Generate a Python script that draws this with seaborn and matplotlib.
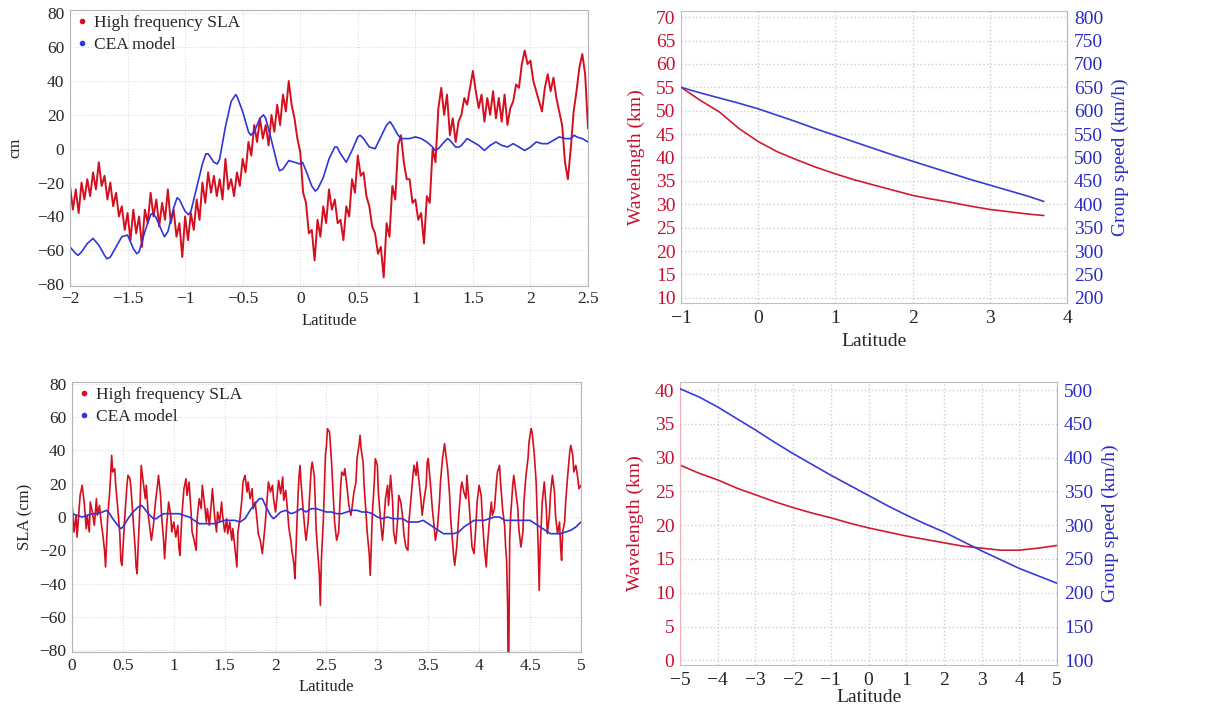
import numpy as np
import pandas as pd
import matplotlib
matplotlib.use("Agg")
import matplotlib.pyplot as plt
import seaborn as sns
from matplotlib.lines import Line2D

# ---- top-left: high frequency SLA vs CEA model (latitude -2 .. 2.5, step 0.025)
sla_top = [
    -22, -36, -24, -38, -20, -30, -18, -28, -14, -24,
    -8, -22, -16, -30, -20, -34, -26, -40, -34, -48,
    -38, -54, -36, -50, -40, -58, -36, -44, -26, -40,
    -30, -46, -32, -42, -24, -44, -36, -52, -44, -64,
    -40, -54, -38, -48, -30, -42, -20, -32, -14, -26,
    -16, -28, -18, -30, -6, -24, -18, -28, -14, -22,
    -6, -14, 4, -4, 14, 4, 18, 6, 14, 2,
    20, 10, 26, 14, 32, 22, 40, 26, 18, 6,
    -2, -26, -32, -50, -48, -66, -42, -52, -34, -44,
    -24, -36, -30, -44, -42, -54, -34, -40, -18, -26,
    -4, -16, -14, -28, -34, -46, -50, -62, -58, -76,
    -44, -52, -22, -30, 2, 8, -8, -18, -18, -32,
    -30, -42, -38, -56, -28, -32, 0, -8, 24, 36,
    20, 32, 8, 18, 4, 16, 20, 30, 26, 36,
    46, 34, 24, 32, 16, 30, 20, 34, 18, 30,
    16, 32, 14, 24, 28, 38, 36, 50, 58, 50,
    52, 40, 34, 28, 22, 36, 44, 34, 42, 30,
    22, 14, -8, -18, 0, 22, 34, 48, 56, 44,
    12,
]
lat_top = np.linspace(-2.0, 2.5, len(sla_top))

cea_top_lat = [-2.0, -1.95, -1.93, -1.9, -1.85, -1.8, -1.75, -1.7, -1.68, -1.65, -1.6,
               -1.55, -1.5, -1.45, -1.42, -1.4, -1.35, -1.3, -1.28, -1.25, -1.2, -1.18,
               -1.15, -1.1, -1.07, -1.05, -1.0, -0.97, -0.95, -0.9, -0.85, -0.82, -0.8,
               -0.75, -0.72, -0.7, -0.65, -0.6, -0.56, -0.55, -0.5, -0.45, -0.43, -0.4,
               -0.35, -0.32, -0.3, -0.25, -0.2, -0.18, -0.15, -0.1, -0.05, 0.0, 0.02,
               0.05, 0.1, 0.13, 0.15, 0.2, 0.25, 0.3, 0.32, 0.35, 0.4, 0.45, 0.5, 0.52,
               0.55, 0.6, 0.65, 0.7, 0.75, 0.78, 0.8, 0.85, 0.88, 0.9, 0.95, 1.0, 1.05,
               1.1, 1.15, 1.17, 1.2, 1.25, 1.28, 1.3, 1.35, 1.38, 1.4, 1.45, 1.5, 1.55,
               1.6, 1.65, 1.7, 1.75, 1.8, 1.85, 1.9, 1.95, 2.0, 2.05, 2.1, 2.15, 2.2,
               2.25, 2.3, 2.35, 2.38, 2.4, 2.45, 2.5]
cea_top = [-58, -62, -63, -61, -56, -53, -57, -63, -65, -64, -58,
           -52, -51, -59, -62, -61, -49, -39, -38, -41, -49, -52,
           -49, -35, -29, -30, -37, -39, -37, -23, -9, -3, -3,
           -8, -9, -6, 13, 28, 32, 31, 22, 10, 8, 10,
           18, 20, 18, 5, -9, -13, -12, -7, -8, -9, -8,
           -13, -22, -25, -24, -17, -6, 1, 1, -3, -8, -1, 7, 8,
           6, 1, 0, 7, 14, 16, 14, 8, 6, 6, 6, 7, 6,
           4, 1, -1, 0, 4, 6, 5, 1, 1, 2, 6, 4, 2,
           -1, 2, 4, 2, 1, 3, 1, -1, 1, 4, 3, 3, 5,
           7, 6, 6, 8, 7, 6, 4]

# ---- bottom-left: high frequency SLA vs CEA model (latitude 0 .. 5)
sla_bot_lat = [
    0.00, 0.02, 0.04, 0.05, 0.07, 0.08, 0.10, 0.12, 0.14, 0.15, 0.17, 0.18, 0.20, 0.22,
    0.24, 0.25, 0.27, 0.29, 0.30, 0.32, 0.33, 0.35, 0.37, 0.38, 0.39, 0.40, 0.42, 0.43,
    0.45, 0.47, 0.48, 0.49, 0.50, 0.52, 0.54, 0.55, 0.57, 0.58, 0.60, 0.62, 0.63, 0.64,
    0.65, 0.67, 0.68, 0.70, 0.72, 0.73, 0.75, 0.77, 0.78, 0.80, 0.82, 0.84, 0.85, 0.87,
    0.88, 0.90, 0.91, 0.93, 0.95, 0.97, 0.98, 1.00, 1.02, 1.04, 1.05, 1.06, 1.08, 1.10,
    1.12, 1.13, 1.15, 1.17, 1.18, 1.20, 1.22, 1.23, 1.25, 1.27, 1.28, 1.30, 1.32, 1.33,
    1.35, 1.37, 1.38, 1.40, 1.42, 1.43, 1.45, 1.47, 1.48, 1.50, 1.52, 1.53, 1.55, 1.57,
    1.58, 1.60, 1.62, 1.63, 1.65, 1.67, 1.68, 1.70, 1.72, 1.73, 1.75, 1.77, 1.78, 1.80,
    1.82, 1.83, 1.85, 1.87, 1.88, 1.90, 1.92, 1.93, 1.95, 1.97, 1.98, 2.00, 2.02, 2.03,
    2.05, 2.07, 2.08, 2.10, 2.12, 2.13, 2.15, 2.16, 2.18, 2.19, 2.20, 2.21, 2.22, 2.23,
    2.24, 2.25, 2.27, 2.29, 2.30, 2.32, 2.34, 2.35, 2.36, 2.38, 2.39, 2.40, 2.42, 2.43,
    2.44, 2.45, 2.46, 2.47, 2.48, 2.49, 2.50, 2.51, 2.53, 2.55, 2.57, 2.58, 2.60, 2.62,
    2.64, 2.65, 2.67, 2.68, 2.70, 2.72, 2.74, 2.75, 2.77, 2.79, 2.80, 2.82, 2.83, 2.84,
    2.86, 2.87, 2.89, 2.90, 2.92, 2.93, 2.94, 2.95, 2.97, 2.98, 3.00, 3.01, 3.03, 3.05,
    3.06, 3.08, 3.10, 3.11, 3.13, 3.15, 3.16, 3.18, 3.20, 3.21, 3.23, 3.25, 3.26, 3.28,
    3.30, 3.31, 3.33, 3.35, 3.36, 3.38, 3.39, 3.41, 3.43, 3.44, 3.46, 3.48, 3.49, 3.50,
    3.52, 3.54, 3.56, 3.57, 3.59, 3.61, 3.62, 3.64, 3.66, 3.67, 3.69, 3.71, 3.72, 3.74,
    3.75, 3.76, 3.78, 3.80, 3.82, 3.83, 3.85, 3.87, 3.88, 3.90, 3.92, 3.93, 3.95, 3.97,
    3.98, 4.00, 4.02, 4.03, 4.05, 4.07, 4.08, 4.10, 4.12, 4.13, 4.15, 4.17, 4.18, 4.20,
    4.21, 4.23, 4.25, 4.26, 4.27, 4.28, 4.285, 4.29, 4.30, 4.31, 4.33, 4.34, 4.36, 4.38,
    4.39, 4.41, 4.43, 4.44, 4.46, 4.48, 4.49, 4.51, 4.52, 4.54, 4.56, 4.57, 4.58, 4.59,
    4.60, 4.62, 4.64, 4.66, 4.67, 4.69, 4.70, 4.72, 4.74, 4.75, 4.77, 4.79, 4.80, 4.81,
    4.82, 4.84, 4.85, 4.87, 4.89, 4.90, 4.92, 4.93, 4.95, 4.97, 4.98, 5.00,
]
sla_bot = [
    9, -9, 1, -12, 5, 13, 19, 9, -7, 1, -9, 9, 3, -5,
    11, 1, 7, -5, -9, -20, -30, -1, 15, 25, 37, 27, 29, 19,
    5, -10, -26, -29, -20, 1, 19, 25, 23, 17, -1, -18, -30, -34,
    -18, 9, 31, 21, 11, 19, 1, -9, -14, -5, 9, 19, 25, 13,
    1, -14, -25, -5, 9, 1, -9, -3, -12, -5, -18, -23, 1, 17,
    23, 13, 21, 3, -9, -14, -20, -1, 11, 5, 19, 9, -3, 5,
    -5, 9, 17, 1, -9, 3, -3, 9, 1, -9, -1, -10, -3, -14,
    -7, -18, -30, -9, -1, 11, 21, 25, 15, 21, 11, 17, 5, 9,
    -3, -10, -14, -22, -16, -3, 13, 21, 15, 19, 11, 3, 16, 22,
    14, 24, 10, 16, 2, -6, -14, -20, -28, -37, -20, -4, 12, 24,
    31, 21, 5, -9, -14, -3, 19, 29, 33, 25, 9, -9, -26, -34,
    -53, -26, -14, -1, 19, 37, 43, 53, 51, 33, 9, -3, -14, -9,
    19, 27, 25, 29, 19, 7, 1, 5, 15, 21, 35, 43, 49, 41,
    33, 19, 1, -9, -22, -35, -18, 1, 21, 35, 31, 15, -1, -14,
    -7, 11, 19, 7, 25, 9, -9, -16, -1, 13, 9, -1, -10, -18,
    -20, -3, 11, 25, 31, 25, 33, 21, 9, 1, 11, 19, 33, 35,
    21, 5, -7, -14, -7, 9, 21, 35, 44, 39, 29, 13, -1, -16,
    -24, -29, -18, 1, 17, 21, 15, 11, 25, 9, -9, -18, -22, -3,
    9, 19, 13, 1, -18, -30, -18, -3, 9, 1, 5, 21, 27, 31,
    21, 5, -5, -18, -26, -54, -95, -95, -14, 1, 19, 25, 15, 5,
    -7, -18, -9, 9, 25, 35, 45, 53, 51, 39, 21, 1, -18, -44,
    -18, 9, 21, 5, -10, 1, 13, 25, 15, 1, -10, -3, -18, -26,
    -9, -3, 9, 25, 39, 43, 37, 27, 31, 23, 17, 19,
]

cea_bot_lat = [0.0, 0.05, 0.1, 0.15, 0.2, 0.25, 0.3, 0.34, 0.37, 0.4, 0.45, 0.48, 0.5,
               0.55, 0.6, 0.65, 0.68, 0.7, 0.75, 0.8, 0.83, 0.85, 0.9, 0.95, 1.0, 1.05,
               1.1, 1.15, 1.2, 1.25, 1.3, 1.35, 1.4, 1.45, 1.5, 1.55, 1.6, 1.65, 1.7,
               1.75, 1.8, 1.84, 1.87, 1.9, 1.95, 1.98, 2.0, 2.05, 2.1, 2.15, 2.2, 2.25,
               2.3, 2.35, 2.4, 2.45, 2.5, 2.55, 2.6, 2.65, 2.7, 2.75, 2.8, 2.85, 2.9,
               2.95, 3.0, 3.05, 3.1, 3.15, 3.2, 3.25, 3.3, 3.35, 3.4, 3.45, 3.5, 3.55,
               3.6, 3.65, 3.7, 3.75, 3.8, 3.85, 3.9, 3.95, 4.0, 4.05, 4.1, 4.15, 4.2,
               4.25, 4.3, 4.35, 4.4, 4.45, 4.5, 4.55, 4.6, 4.65, 4.7, 4.75, 4.8, 4.85,
               4.9, 4.95, 5.0]
cea_bot = [2, 1, 0, 1, 2, 2, 3, 4, 2, -1, -5, -7, -6,
           -1, 3, 6, 7, 6, 2, -1, -1, 0, 2, 2, 2, 2,
           1, 0, -2, -4, -4, -4, -4, -3, -2, -2, -2, -3, -1,
           4, 8, 11, 11, 7, 1, -1, 0, 3, 4, 2, 3, 5,
           3, 5, 5, 4, 3, 3, 2, 2, 3, 4, 4, 3, 3,
           2, 0, -1, 0, -1, -1, -1, -3, -3, -3, -2, -4, -6,
           -8, -10, -10, -10, -9, -6, -4, -2, -2, -2, -1, 0, 0,
           -2, -2, -2, -2, -2, -2, -4, -6, -8, -10, -10, -10, -9,
           -8, -6, -3]

# ---- top-right: wavelength / group speed
lat_tr = [-1, -0.75, -0.5, -0.25, 0, 0.25, 0.5, 0.75, 1, 1.25, 1.5, 1.75, 2,
          2.25, 2.5, 2.75, 3, 3.25, 3.5, 3.7]
wave_tr = [55, 52.2, 49.7, 46.2, 43.4, 41.2, 39.5, 37.9, 36.5, 35.2, 34.1, 33.0,
           31.9, 31.1, 30.4, 29.6, 28.9, 28.4, 27.9, 27.6]
speed_tr = [650, 638, 627, 616, 604, 590, 576, 561, 547, 533, 519, 505, 492,
            479, 466, 453, 441, 429, 417, 406]

# ---- bottom-right: wavelength / group speed
lat_br = [-5, -4.5, -4, -3.5, -3, -2.5, -2, -1.5, -1, -0.5, 0, 0.5, 1, 1.5, 2,
          2.5, 3, 3.5, 4, 4.5, 5]
wave_br = [28.9, 27.7, 26.7, 25.5, 24.5, 23.5, 22.6, 21.8, 21.1, 20.3, 19.6, 19.0,
           18.4, 17.9, 17.4, 16.9, 16.6, 16.3, 16.3, 16.6, 17.0]
speed_br = [502, 490, 475, 458, 441, 423, 406, 390, 374, 359, 344, 329, 315, 302,
            290, 276, 262, 249, 236, 225, 214]

RED = "#d40f1f"
BLUE = "#2f35d6"
RED_T = "#c8102e"
BLUE_T = "#2a2acb"

sns.set_style("white")
plt.rcParams["font.family"] = ["Liberation Serif", "DejaVu Serif"]
plt.rcParams["axes.unicode_minus"] = True

fig = plt.figure(figsize=(12.22, 7.11), dpi=100)


def style_sla(ax, xlim, ylim, xticks, ylabel, ylabelpad):
    ax.set_xlim(*xlim)
    ax.set_ylim(*ylim)
    ax.set_xticks(xticks)
    ax.set_xticklabels([f"{t:g}".replace("-", "\u2212") for t in xticks])
    ax.set_yticks(range(-80, 81, 20))
    ax.grid(True, color="#dcdcdc", linestyle=":", linewidth=0.8)
    for s in ax.spines.values():
        s.set_color("#b5b5b5")
        s.set_linewidth(0.8)
    ax.tick_params(length=0, labelsize=12.5, pad=4)
    ax.set_xlabel("Latitude", fontsize=12, labelpad=4)
    ax.set_ylabel(ylabel, fontsize=12, labelpad=ylabelpad)
    handles = [Line2D([], [], marker="o", ls="", ms=3, color=RED),
               Line2D([], [], marker="o", ls="", ms=3, color=BLUE)]
    ax.legend(handles, ["High frequency SLA", "CEA model"], loc="upper left",
              frameon=False, fontsize=12.5, handlelength=0.8, handletextpad=0.3,
              borderaxespad=0.1, borderpad=0.2, labelspacing=0.3)


# top-left
ax1 = fig.add_axes([0.0573, 0.598, 0.4239, 0.388])
sns.lineplot(x=lat_top, y=sla_top, ax=ax1, color=RED, lw=1.4, estimator=None)
sns.lineplot(x=cea_top_lat, y=cea_top, ax=ax1, color=BLUE, lw=1.2, estimator=None)
style_sla(ax1, (-2, 2.5), (-81, 82), [-2, -1.5, -1, -0.5, 0, 0.5, 1, 1.5, 2, 2.5], "cm", 10)

# bottom-left
ax3 = fig.add_axes([0.0589, 0.083, 0.4165, 0.3797])
sns.lineplot(x=sla_bot_lat, y=sla_bot, ax=ax3, color=RED, lw=1.2, estimator=None)
sns.lineplot(x=cea_bot_lat, y=cea_bot, ax=ax3, color=BLUE, lw=1.2, estimator=None)
style_sla(ax3, (0, 5), (-81, 81), [0, 0.5, 1, 1.5, 2, 2.5, 3, 3.5, 4, 4.5, 5], "SLA (cm)", 4)


def style_disp(ax, ax2, xlim, ylim, xticks, yticks, y2ticks):
    ax.set_xlim(*xlim)
    ax.set_ylim(*ylim)
    lo, hi = ylim
    base_l, base_r = yticks[0], y2ticks[0]
    ax2.set_ylim(base_r + (lo - base_l) * 10, base_r + (hi - base_l) * 10)
    ax.set_xticks(xticks)
    ax.set_xticklabels([f"{t:g}".replace("-", "\u2212") for t in xticks])
    ax.set_yticks(yticks)
    ax2.set_yticks(y2ticks)
    ax.grid(True, color="#cfcfcf", linestyle=":", linewidth=1.0)
    ax2.grid(False)
    for s in ["top", "bottom"]:
        ax.spines[s].set_color("#c0c0c0")
    ax.spines["left"].set_color("#eab0b8")
    ax.spines["right"].set_visible(False)
    for s in ["top", "bottom", "left"]:
        ax2.spines[s].set_visible(False)
    ax2.spines["right"].set_color("#b0b0ea")
    ax.tick_params(axis="x", length=0, labelsize=14, pad=5)
    ax.tick_params(axis="y", length=0, labelsize=14, pad=4, labelcolor=RED_T)
    ax2.tick_params(axis="y", length=0, labelsize=14, pad=5, labelcolor=BLUE_T)
    ax.set_xlabel("Latitude", fontsize=14, labelpad=4)
    ax.set_ylabel("Wavelength (km)", fontsize=14, color=RED_T, labelpad=8)
    ax2.set_ylabel("Group speed (km/h)", fontsize=14, color=BLUE_T, labelpad=6)


# top-right
ax2 = fig.add_axes([0.5573, 0.5738, 0.3159, 0.4107])
ax2b = ax2.twinx()
sns.lineplot(x=lat_tr, y=wave_tr, ax=ax2, color="#d01c30", lw=1.2, estimator=None)
sns.lineplot(x=lat_tr, y=speed_tr, ax=ax2b, color="#3a3ad8", lw=1.2, estimator=None)
style_disp(ax2, ax2b, (-1, 4), (8.9, 71.3), [-1, 0, 1, 2, 3, 4],
           list(range(10, 71, 5)), list(range(200, 801, 50)))

# bottom-right
ax4 = fig.add_axes([0.5565, 0.0647, 0.3085, 0.398])
ax4b = ax4.twinx()
sns.lineplot(x=lat_br, y=wave_br, ax=ax4, color="#d01c30", lw=1.2, estimator=None)
sns.lineplot(x=lat_br, y=speed_br, ax=ax4b, color="#3a3ad8", lw=1.2, estimator=None)
style_disp(ax4, ax4b, (-5, 5), (-0.7, 41.2), list(range(-5, 6)),
           list(range(0, 41, 5)), list(range(100, 501, 50)))
ax4.set_xlabel("Latitude", fontsize=14, labelpad=0)

fig.savefig("out.png", dpi=100)
